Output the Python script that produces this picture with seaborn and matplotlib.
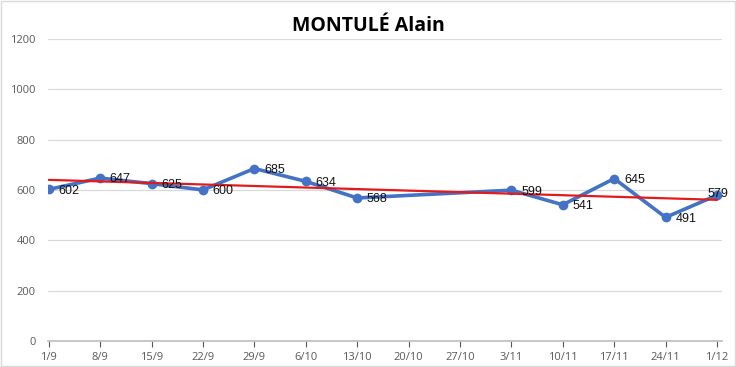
import numpy as np
import pandas as pd
import matplotlib
matplotlib.use("Agg")
import matplotlib.pyplot as plt
import matplotlib.dates as mdates
from matplotlib.patches import Rectangle
import seaborn as sns

# data
dates = ["2014-09-01", "2014-09-08", "2014-09-15", "2014-09-22", "2014-09-29",
         "2014-10-06", "2014-10-13", "2014-11-03", "2014-11-10", "2014-11-17",
         "2014-11-24", "2014-12-01"]
values = [602, 647, 625, 600, 685, 634, 568, 599, 541, 645, 491, 579]
tick_dates = pd.date_range("2014-09-01", "2014-12-01", freq="7D")
title = "MONTULÉ Alain"

df = pd.DataFrame({"date": pd.to_datetime(dates), "value": values})

sns.set_theme(style="white")
plt.rcParams["font.family"] = ["Open Sans", "DejaVu Sans"]

fig = plt.figure(figsize=(7.36, 3.67), dpi=100)
ax = fig.add_axes([0.0652, 0.071, 0.916, 0.823])

blue = "#4472C4"
sns.lineplot(data=df, x="date", y="value", ax=ax, color=blue, linewidth=2.6,
             marker="o", markersize=7, markeredgewidth=0, zorder=3)

# linear trendline
xnum = mdates.date2num(df["date"])
slope, icpt = np.polyfit(xnum, df["value"], 1)
xt = np.array([xnum.min(), xnum.max()])
ax.plot(mdates.num2date(xt), slope * xt + icpt, color="#E31A1C", linewidth=1.6, zorder=4)

n = len(df)
for i, (d, v) in enumerate(zip(df["date"], df["value"])):
    if i == n - 1:
        off, ha = (1, 1), "center"
    else:
        off, ha = (7, -1), "left"
    ax.annotate(str(v), (d, v), xytext=off, textcoords="offset points",
                fontsize=9, color="#111111", va="center", ha=ha, zorder=5,
                family=["Liberation Sans", "DejaVu Sans"])

ax.set_ylim(0, 1200)
ax.set_yticks(range(0, 1201, 200))
ax.set_xlim(mdates.date2num(tick_dates[0]) - 0.1, mdates.date2num(tick_dates[-1]) + 0.7)
ax.set_xticks(tick_dates)
ax.set_xticklabels([f"{d.day}/{d.month}" for d in tick_dates])
ax.grid(axis="y", color="#d9d9d9", linewidth=0.9)
ax.set_xlabel("")
ax.set_ylabel("")
for s in ["top", "right", "left"]:
    ax.spines[s].set_visible(False)
ax.spines["bottom"].set_color("#bfbfbf")
ax.tick_params(axis="x", colors="#595959", labelsize=8, length=4, width=0.8,
               direction="out", bottom=True, pad=4)
ax.tick_params(axis="y", colors="#595959", labelsize=8, length=0, pad=9)
for lab in ax.get_xticklabels() + ax.get_yticklabels():
    lab.set_color("#595959")

fig.text(0.5, 0.93, title, ha="center", va="center", fontsize=14, fontweight="bold",
         color="#000000")

fig.patches.append(Rectangle((0.002, 0.003), 0.996, 0.994, transform=fig.transFigure,
                             fill=False, edgecolor="#d9d9d9", linewidth=1))

fig.savefig("out.png", dpi=100)
